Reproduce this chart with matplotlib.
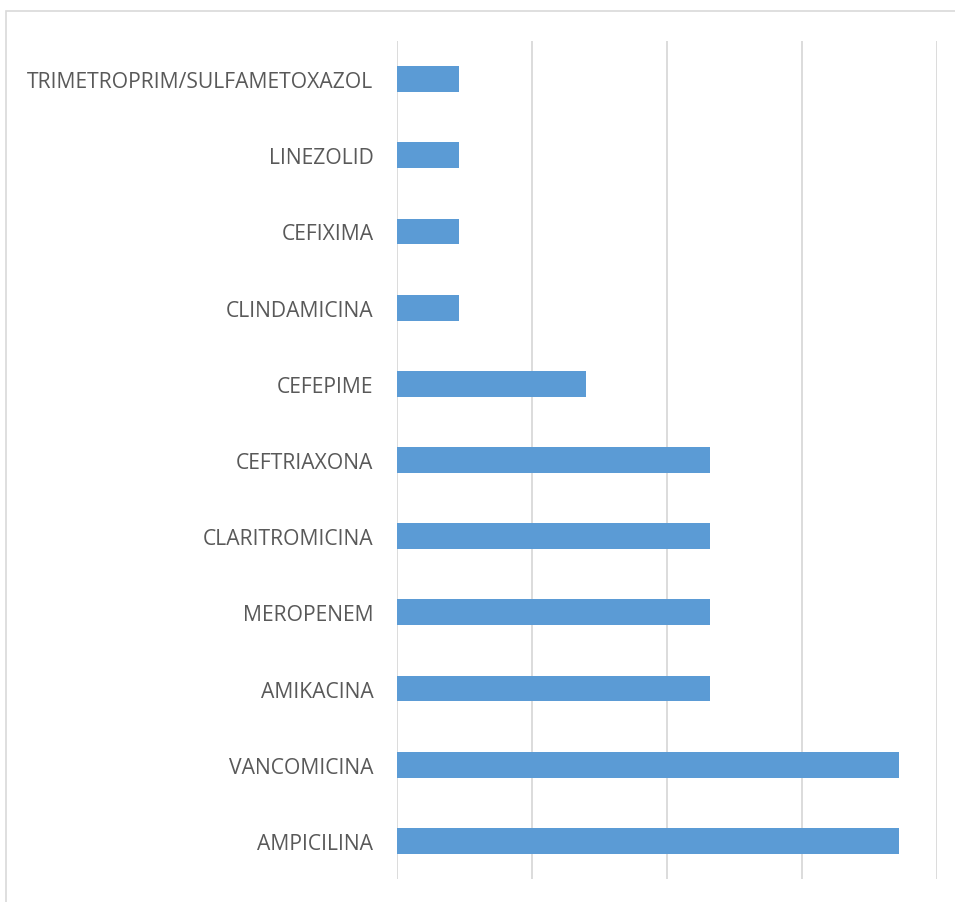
import matplotlib as mpl
mpl.use('Agg')
import matplotlib.pyplot as plt
import matplotlib.patches as mpatches
import numpy as np

# antibiotic categories, bottom to top
categories = [
    "AMPICILINA", "VANCOMICINA", "AMIKACINA", "MEROPENEM", "CLARITROMICINA",
    "CEFTRIAXONA", "CEFEPIME", "CLINDAMICINA", "CEFIXIMA", "LINEZOLID",
    "TRIMETROPRIM/SULFAMETOXAZOL",
]
# percent of cases
values = [18.6, 18.6, 11.6, 11.6, 11.6, 11.6, 7.0, 2.3, 2.3, 2.3, 2.3]
grid_ticks = [0, 5, 10, 15, 20]

W, H = 955, 903
fig = plt.figure(figsize=(W / 100, H / 100), dpi=100)
ax = fig.add_axes([397 / W, 1 - 880 / H, 540 / W, 838 / H])

y = np.arange(len(categories))
ax.barh(y, values, height=0.34, color="#5B9BD5", zorder=3)

ax.set_xlim(0, 20)
ax.set_ylim(-0.5, len(categories) - 0.5)
ax.set_xticks(grid_ticks)
ax.set_xticklabels([])
ax.set_yticks(y)
ax.set_yticklabels(categories, fontsize=15.2, color="#595959", family="Open Sans")
ax.tick_params(axis="both", length=0)
ax.tick_params(axis="y", pad=17)
ax.grid(axis="x", color="#d9d9d9", linewidth=1.3, zorder=0)
for s in ax.spines.values():
    s.set_visible(False)

# outer chart border
fig.patches.append(mpatches.Rectangle((6 / W, -0.01), 1.0, 1 - 12 / H + 0.01,
                                      transform=fig.transFigure, fill=False,
                                      edgecolor="#d9d9d9", linewidth=1.2))

plt.savefig("out.png", dpi=100)
